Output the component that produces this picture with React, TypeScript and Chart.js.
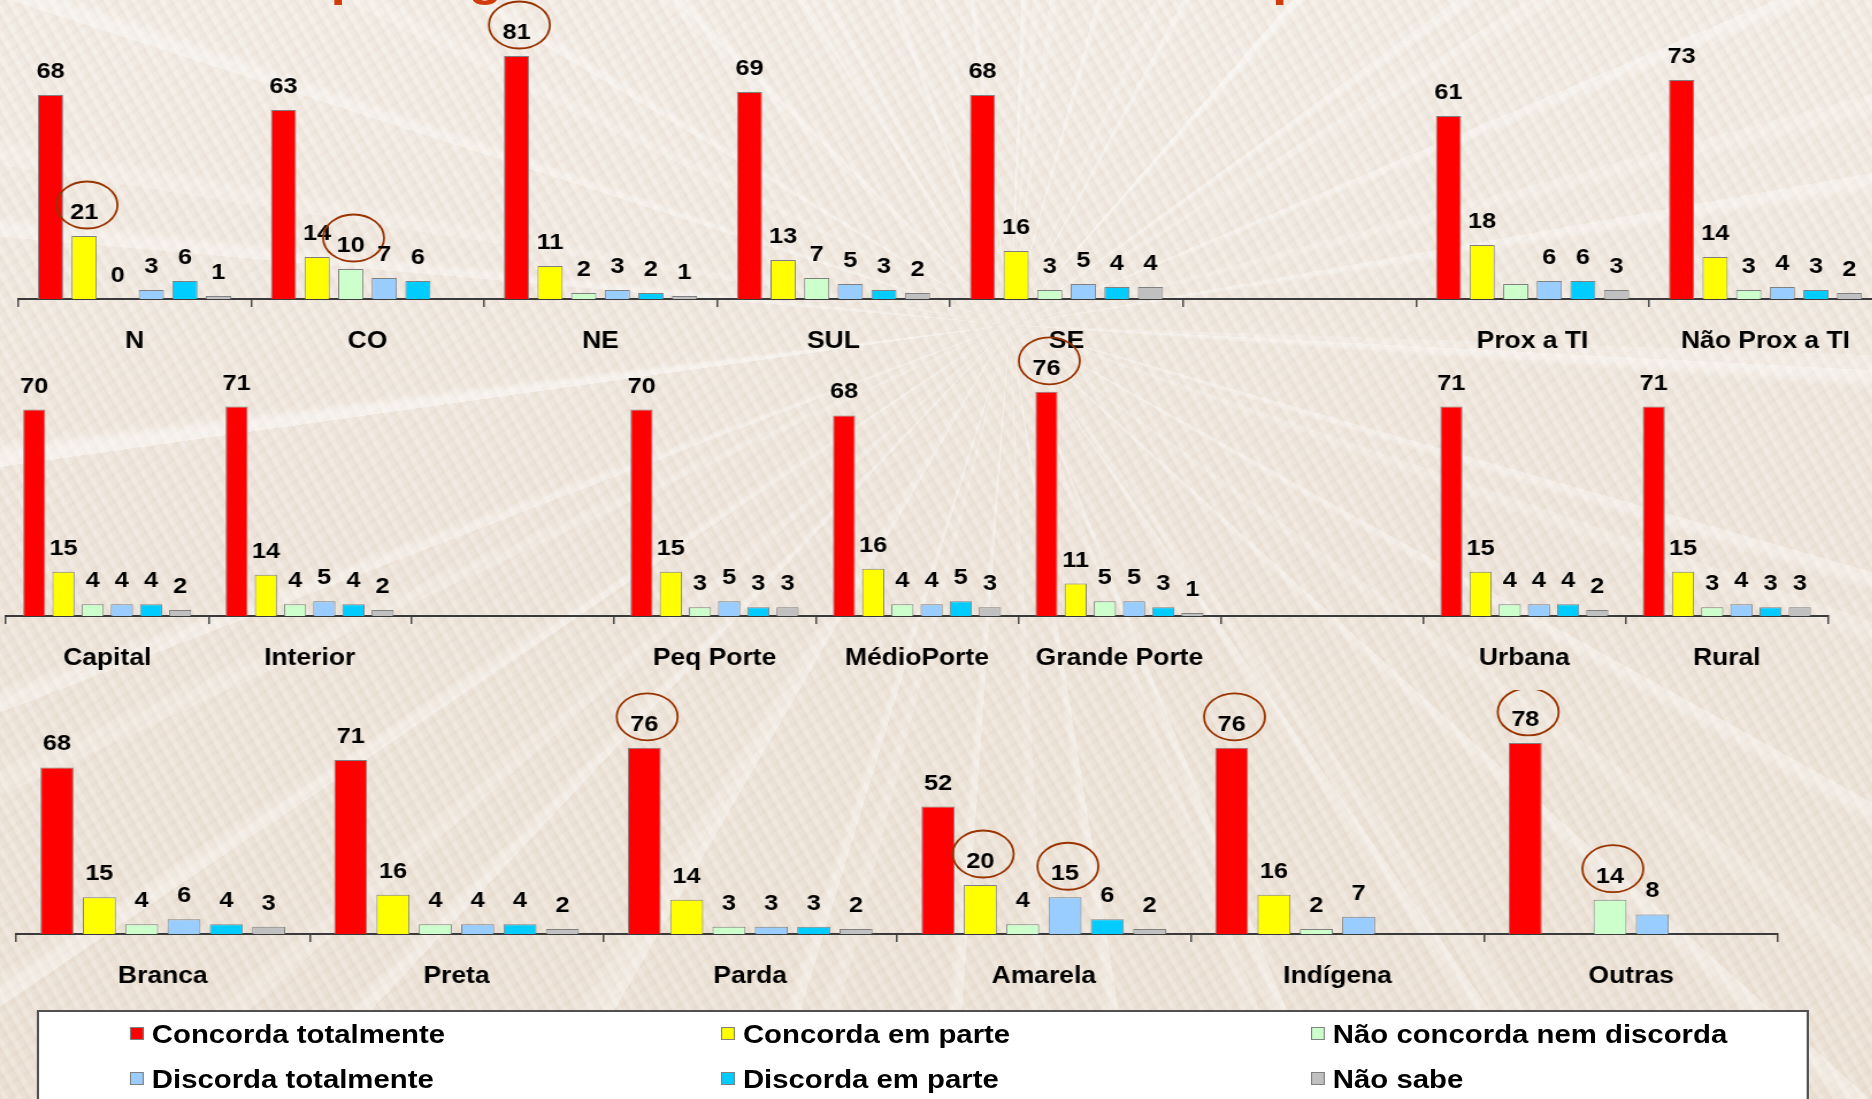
import React, { useEffect, useRef } from 'react';
import { Chart, registerables } from 'chart.js';

Chart.register(...registerables);

const FONT = '"Liberation Sans", Arial, Helvetica, sans-serif';
const STRETCH = 1.15;
const PAGE_W = 1872;
const PAGE_H = 1099;
const INNER_W = PAGE_W / STRETCH;

const TITLE_TEXT = 'Forma de proteger o território indica o modo que se usa';

const SERIES_NAMES = [
  'Concorda totalmente',
  'Concorda em parte',
  'Não concorda nem discorda',
  'Discorda totalmente',
  'Discorda em parte',
  'Não sabe',
];
const SERIES_COLORS = ['#FF0000', '#FFFF00', '#CCFFCC', '#99CCFF', '#00CCFF', '#C0C0C0'];
const BAR_BORDER = '#808080';

// Row 1 – regiões / proximidade de TI
const REGION_CATEGORIES = ['N', 'CO', 'NE', 'SUL', 'SE', '', 'Prox a TI', 'Não Prox a TI'];
const REGION_CONCORDA_TOTAL = [68, 63, 81, 69, 68, null, 61, 73];
const REGION_CONCORDA_PARTE = [21, 14, 11, 13, 16, null, 18, 14];
const REGION_NEUTRO = [0, 10, 2, 7, 3, null, 5, 3];
const REGION_DISCORDA_TOTAL = [3, 7, 3, 5, 5, null, 6, 4];
const REGION_DISCORDA_PARTE = [6, 6, 2, 3, 4, null, 6, 3];
const REGION_NAO_SABE = [1, null, 1, 2, 4, null, 3, 2];

// Row 2 – capital/interior, porte, urbana/rural
const PLACE_CATEGORIES = ['Capital', 'Interior', '', 'Peq Porte', 'MédioPorte', 'Grande Porte', '', 'Urbana', 'Rural'];
const PLACE_CONCORDA_TOTAL = [70, 71, null, 70, 68, 76, null, 71, 71];
const PLACE_CONCORDA_PARTE = [15, 14, null, 15, 16, 11, null, 15, 15];
const PLACE_NEUTRO = [4, 4, null, 3, 4, 5, null, 4, 3];
const PLACE_DISCORDA_TOTAL = [4, 5, null, 5, 4, 5, null, 4, 4];
const PLACE_DISCORDA_PARTE = [4, 4, null, 3, 5, 3, null, 4, 3];
const PLACE_NAO_SABE = [2, 2, null, 3, 3, 1, null, 2, 3];

// Row 3 – cor / raça
const RACE_CATEGORIES = ['Branca', 'Preta', 'Parda', 'Amarela', 'Indígena', 'Outras'];
const RACE_CONCORDA_TOTAL = [68, 71, 76, 52, 76, 78];
const RACE_CONCORDA_PARTE = [15, 16, 14, 20, 16, null];
const RACE_NEUTRO = [4, 4, 3, 4, 2, 14];
const RACE_DISCORDA_TOTAL = [6, 4, 3, 15, 7, 8];
const RACE_DISCORDA_PARTE = [4, 4, 3, 6, null, null];
const RACE_NAO_SABE = [3, 2, 2, 2, null, null];

// [categoryIndex, seriesIndex]
const REGION_CIRCLED = [[2, 0], [0, 1], [1, 2]];
const REGION_HIDDEN_LABELS = [[6, 2]];
const PLACE_CIRCLED = [[5, 0]];
const RACE_CIRCLED = [[2, 0], [3, 1], [3, 3], [4, 0], [5, 0], [5, 2]];

type Row = {
  categories: string[];
  series: (number | null)[][];
  circled: number[][];
  hidden: number[][];
  top: number;
  width: number;
  height: number;
  padL: number;
  padR: number;
  padTop: number;
  barPct: number;
};

const ROWS: Row[] = [
  {
    categories: REGION_CATEGORIES,
    series: [REGION_CONCORDA_TOTAL, REGION_CONCORDA_PARTE, REGION_NEUTRO, REGION_DISCORDA_TOTAL, REGION_DISCORDA_PARTE, REGION_NAO_SABE],
    circled: REGION_CIRCLED,
    hidden: REGION_HIDDEN_LABELS,
    top: 0,
    width: 1647,
    height: 369,
    padL: 18 / STRETCH,
    padR: 1647 - 1882 / STRETCH,
    padTop: 29,
    barPct: 0.75,
  },
  {
    categories: PLACE_CATEGORIES,
    series: [PLACE_CONCORDA_TOTAL, PLACE_CONCORDA_PARTE, PLACE_NEUTRO, PLACE_DISCORDA_TOTAL, PLACE_DISCORDA_PARTE, PLACE_NAO_SABE],
    circled: PLACE_CIRCLED,
    hidden: [],
    top: 330,
    width: 1600,
    height: 356,
    padL: 6 / STRETCH,
    padR: 1600 - 1828 / STRETCH,
    padTop: 20.5,
    barPct: 0.76,
  },
  {
    categories: RACE_CATEGORIES,
    series: [RACE_CONCORDA_TOTAL, RACE_CONCORDA_PARTE, RACE_NEUTRO, RACE_DISCORDA_TOTAL, RACE_DISCORDA_PARTE, RACE_NAO_SABE],
    circled: RACE_CIRCLED,
    hidden: [],
    top: 690,
    width: 1556,
    height: 314,
    padL: 16 / STRETCH,
    padR: 1556 - 1778 / STRETCH,
    padTop: 23.5,
    barPct: 0.78,
  },
];

function has(list: number[][], ci: number, di: number) {
  return list.some(([c, d]) => c === ci && d === di);
}

function makeLabelPlugin(circled: number[][], hidden: number[][]) {
  return {
    id: 'valueLabels',
    afterDatasetsDraw(chart: any) {
      const ctx = chart.ctx as CanvasRenderingContext2D;
      ctx.save();
      ctx.font = `bold 22px ${FONT}`;
      ctx.fillStyle = '#000';
      ctx.textAlign = 'center';
      ctx.textBaseline = 'alphabetic';
      chart.data.datasets.forEach((ds: any, di: number) => {
        const meta = chart.getDatasetMeta(di);
        meta.data.forEach((bar: any, ci: number) => {
          const v = ds.data[ci];
          if (v === null || v === undefined) return;
          if (has(hidden, ci, di)) return;
          const ty = bar.y - 17;
          ctx.fillText(String(v), bar.x, ty);
          if (has(circled, ci, di)) {
            ctx.beginPath();
            ctx.ellipse(bar.x + 2.5, ty - 14, 26.5, 23.5, 0, 0, Math.PI * 2);
            ctx.strokeStyle = '#993300';
            ctx.lineWidth = 1.8;
            ctx.stroke();
          }
        });
      });
      ctx.restore();
    },
  };
}

function buildChart(canvas: HTMLCanvasElement, row: Row) {
  return new Chart(canvas, {
    type: 'bar',
    data: {
      labels: row.categories,
      datasets: row.series.map((data, i) => ({
        label: SERIES_NAMES[i],
        data: data as any,
        backgroundColor: SERIES_COLORS[i],
        borderColor: BAR_BORDER,
        borderWidth: 1,
        categoryPercentage: 0.865,
        barPercentage: row.barPct,
      })),
    },
    options: {
      responsive: false,
      maintainAspectRatio: false,
      animation: false,
      devicePixelRatio: 1,
      layout: { padding: { left: row.padL, right: row.padR, top: row.padTop, bottom: 0 } },
      plugins: {
        legend: { display: false },
        tooltip: { enabled: false },
        title: { display: false },
      },
      scales: {
        x: {
          offset: true,
          grid: {
            offset: true,
            drawOnChartArea: false,
            drawTicks: true,
            tickLength: 8,
            color: '#4a4a4a',
            lineWidth: 1.5,
          },
          border: { display: true, color: '#3a3a3a', width: 2 },
          ticks: {
            color: '#000',
            font: { family: FONT, size: 23, weight: 'bold' },
            padding: 21,
            autoSkip: false,
            maxRotation: 0,
            minRotation: 0,
          },
          afterFit: (s: any) => {
            s.height = 70;
          },
        },
        y: { display: false, min: 0, max: 90 },
      },
    } as any,
    plugins: [makeLabelPlugin(row.circled, row.hidden)],
  });
}

const LEGEND_COLS = [113, 627, 1140];
const LEGEND_ROWS = [1019, 1064];

export default function App() {
  const r1 = useRef<HTMLCanvasElement>(null);
  const r2 = useRef<HTMLCanvasElement>(null);
  const r3 = useRef<HTMLCanvasElement>(null);

  useEffect(() => {
    document.body.style.margin = '0';
    const refs = [r1, r2, r3];
    const charts = ROWS.map((row, i) => buildChart(refs[i].current as HTMLCanvasElement, row));
    return () => charts.forEach((c) => c.destroy());
  }, []);

  const refs = [r1, r2, r3];

  return (
    <div
      style={{
        position: 'fixed',
        left: 0,
        top: 0,
        width: PAGE_W,
        height: PAGE_H,
        overflow: 'hidden',
        background: [
          'repeating-conic-gradient(from 2deg at 1010px 325px, rgba(255,255,255,0.32) 0deg 0.6deg, rgba(255,255,255,0) 1.3deg 13deg)',
          'repeating-conic-gradient(from 7deg at 1010px 325px, rgba(255,255,255,0.18) 0deg 0.9deg, rgba(255,255,255,0) 1.6deg 17deg)',
          'repeating-linear-gradient(60deg, rgba(190,165,140,0.09) 0px 2px, rgba(255,255,255,0.12) 4px 7px, rgba(190,165,140,0.05) 9px 12px)',
          'repeating-linear-gradient(-35deg, rgba(200,180,160,0.05) 0px 3px, rgba(255,255,255,0.06) 5px 11px)',
          'linear-gradient(180deg, #f3ede6 0%, #eee5db 55%, #ece2d6 100%)',
        ].join(', '),
      }}
    >
      <div
        style={{
          position: 'absolute',
          left: 0,
          top: 0,
          width: INNER_W,
          height: PAGE_H,
          transform: `scaleX(${STRETCH})`,
          transformOrigin: '0 0',
        }}
      >
        <div
          style={{
            position: 'absolute',
            left: 58,
            top: -49,
            fontFamily: FONT,
            fontWeight: 'bold',
            fontSize: 48,
            lineHeight: 'normal',
            color: '#D23C0A',
            whiteSpace: 'nowrap',
          }}
        >
          {TITLE_TEXT}
        </div>
        {ROWS.map((row, i) => (
          <canvas
            key={i}
            ref={refs[i]}
            width={row.width}
            height={row.height}
            style={{ position: 'absolute', left: 0, top: row.top, display: 'block' }}
          />
        ))}
        <div
          style={{
            position: 'absolute',
            left: 37 / STRETCH,
            top: 1010,
            width: (1809 - 37) / STRETCH,
            height: 130,
            background: '#ffffff',
            border: '2px solid #505050',
            boxSizing: 'border-box',
          }}
        />
        {SERIES_NAMES.map((name, i) => (
          <div
            key={name}
            style={{
              position: 'absolute',
              left: LEGEND_COLS[i % 3],
              top: LEGEND_ROWS[Math.floor(i / 3)],
              height: 30,
              lineHeight: '30px',
              fontFamily: FONT,
              fontWeight: 'bold',
              fontSize: 25.5,
              color: '#000',
              whiteSpace: 'nowrap',
            }}
          >
            <span
              style={{
                position: 'absolute',
                left: 0,
                top: 8,
                width: 12,
                height: 13,
                boxSizing: 'border-box',
                background: SERIES_COLORS[i],
                border: '1px solid #808080',
              }}
            />
            <span style={{ position: 'absolute', left: 19, top: 0 }}>{name}</span>
          </div>
        ))}
      </div>
    </div>
  );
}
